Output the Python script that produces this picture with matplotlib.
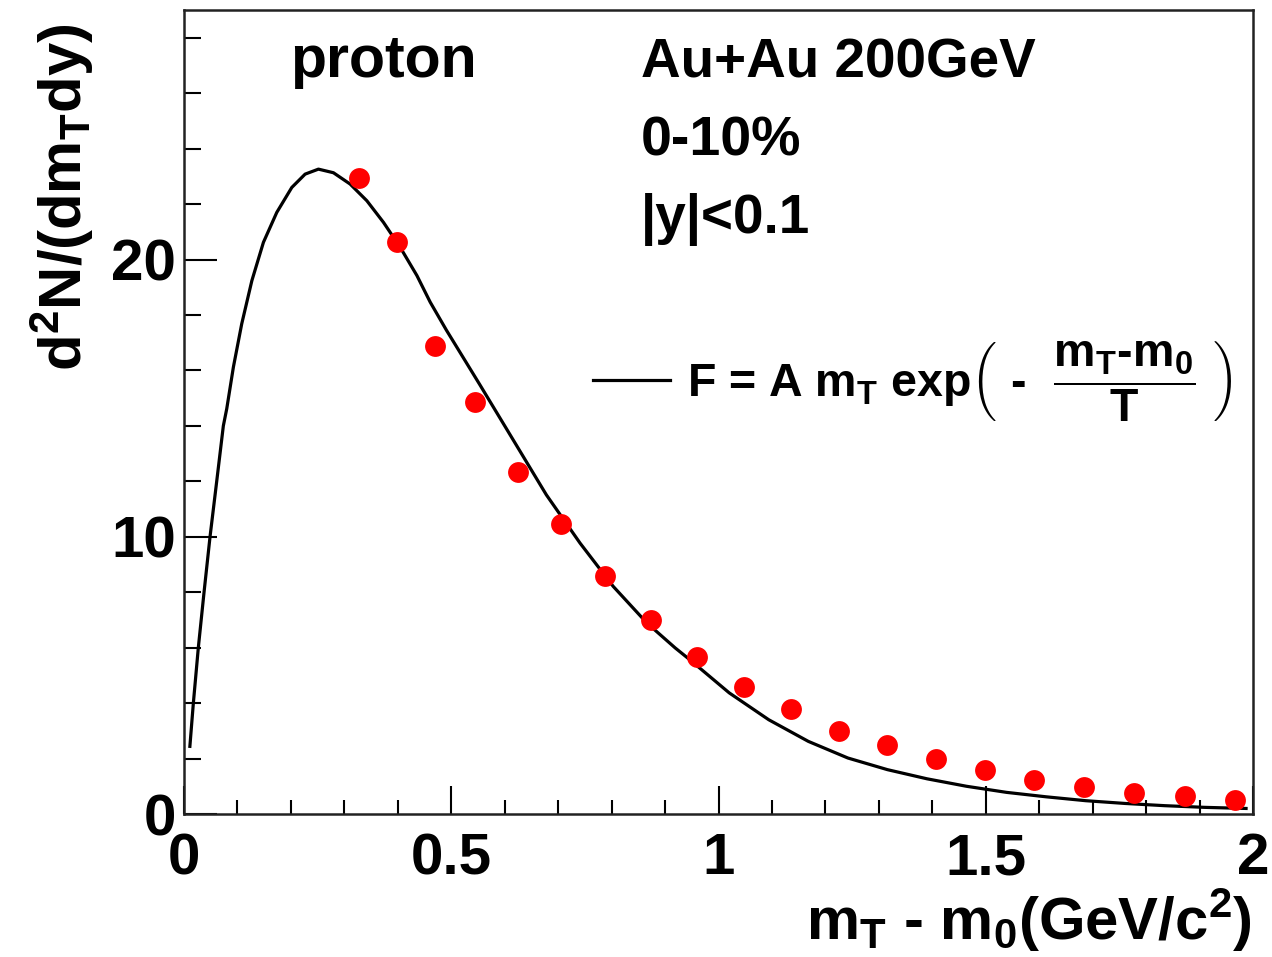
"""
Proton m_T spectrum, Au+Au 200 GeV, 0-10% central, |y|<0.1
with exponential fit curve
"""

import matplotlib
matplotlib.use("Agg")
import matplotlib.pyplot as plt
from matplotlib.ticker import MultipleLocator

# =====================================================
# DATA
# =====================================================
mt_points = [0.328, 0.398, 0.470, 0.545, 0.624, 0.705, 0.788, 0.873, 0.959, 1.047,
             1.136, 1.225, 1.315, 1.407, 1.499, 1.591, 1.684, 1.778, 1.872, 1.967]
yield_points = [22.95, 20.62, 16.89, 14.87, 12.32, 10.47, 8.59, 6.98, 5.66, 4.57,
                3.79, 2.98, 2.49, 2.00, 1.60, 1.24, 0.98, 0.76, 0.64, 0.50]

fit_x = [0.011, 0.0175, 0.0268, 0.0375, 0.0487, 0.0612, 0.0736, 0.080, 0.0924, 0.108,
         0.127, 0.1486, 0.1736, 0.2017, 0.2266, 0.2515, 0.2796, 0.3109, 0.3421, 0.3732,
         0.4045, 0.4358, 0.4607, 0.491, 0.553, 0.616, 0.678, 0.741, 0.803, 0.866,
         0.919, 0.946, 1.020, 1.094, 1.168, 1.242, 1.316, 1.390, 1.464, 1.539,
         1.613, 1.687, 1.761, 1.835, 1.909, 1.987]
fit_y = [2.44, 4.00, 6.00, 8.00, 10.00, 12.00, 14.00, 14.62, 16.12, 17.68,
         19.24, 20.62, 21.70, 22.60, 23.08, 23.26, 23.13, 22.72, 22.12, 21.34,
         20.44, 19.42, 18.46, 17.45, 15.50, 13.49, 11.51, 9.77, 8.21, 6.89,
         5.99, 5.57, 4.37, 3.40, 2.62, 2.02, 1.60, 1.27, 1.00, 0.78,
         0.62, 0.48, 0.38, 0.30, 0.24, 0.20]

x_ticks = [0, 0.5, 1, 1.5, 2]
x_tick_labels = ["0", "0.5", "1", "1.5", "2"]
y_ticks = [0, 10, 20]
y_tick_labels = ["0", "10", "20"]

# =====================================================
# STYLE
# =====================================================
plt.rcParams["font.family"] = ["Liberation Sans", "DejaVu Sans"]
plt.rcParams["font.weight"] = "bold"
plt.rcParams["mathtext.fontset"] = "custom"
plt.rcParams["mathtext.rm"] = "Liberation Sans:bold"
plt.rcParams["mathtext.it"] = "Liberation Sans:bold"
plt.rcParams["mathtext.bf"] = "Liberation Sans:bold"
plt.rcParams["mathtext.default"] = "rm"

W, H = 1272, 957
fig = plt.figure(figsize=(W / 100, H / 100), dpi=100)
ax = fig.add_axes([184 / W, 1 - 814 / H, (1253 - 184) / W, (814 - 10) / H])

# =====================================================
# PLOTTING
# =====================================================
fit_label = r"F = A m$_T$ exp$\left(\ \text{-}\ \ \dfrac{m_T\text{-}m_0}{T}\ \right)$"
fit_line, = ax.plot(fit_x, fit_y, color="black", lw=2.3, solid_joinstyle="round",
                    label=fit_label)
ax.plot(mt_points, yield_points, "o", color="red", markersize=15, markeredgewidth=0)

ax.set_xlim(0, 2)
ax.set_ylim(0, 29)

ax.set_xticks(x_ticks)
ax.set_xticklabels(x_tick_labels)
ax.set_yticks(y_ticks)
ax.set_yticklabels(y_tick_labels)
ax.xaxis.set_minor_locator(MultipleLocator(0.1))
ax.yaxis.set_minor_locator(MultipleLocator(2))

ax.tick_params(axis="both", which="both", direction="in", width=1.5,
               top=False, right=False, labelsize=42)
ax.tick_params(axis="x", which="major", length=20, pad=13)
ax.tick_params(axis="x", which="minor", length=10)
ax.tick_params(axis="y", which="major", length=24, pad=6)
ax.tick_params(axis="y", which="minor", length=12)

for sp in ax.spines.values():
    sp.set_linewidth(1.8)
    sp.set_color("#222222")

# axis titles
fig.text(62 / W, 1 - 24 / H, r"d$^{2}$N/(dm$_{T}$dy)", rotation=90,
         ha="center", va="top", fontsize=43)
fig.text(1252 / W, 1 - 940 / H, r"m$_{T}$ - m$_{0}$(GeV/c$^{2}$)",
         ha="right", va="baseline", fontsize=43)

# labels
ax.text(290 / W, 1 - 77 / H, "proton", transform=fig.transFigure, fontsize=42.5, va="baseline")
ax.text(641 / W, 1 - 77 / H, "Au+Au 200GeV", transform=fig.transFigure, fontsize=39.5, va="baseline")
ax.text(641 / W, 1 - 155 / H, "0-10%", transform=fig.transFigure, fontsize=40, va="baseline")
ax.text(641 / W, 1 - 233 / H, "|y|<0.1", transform=fig.transFigure, fontsize=39.5, va="baseline")

ax.legend(handles=[fit_line], loc="center left", bbox_to_anchor=(593 / W, 1 - 381 / H),
          bbox_transform=fig.transFigure, frameon=False, fontsize=33.5,
          handlelength=1.65, handletextpad=0.38, borderpad=0, borderaxespad=0)

fig.savefig("out.png", dpi=100)
